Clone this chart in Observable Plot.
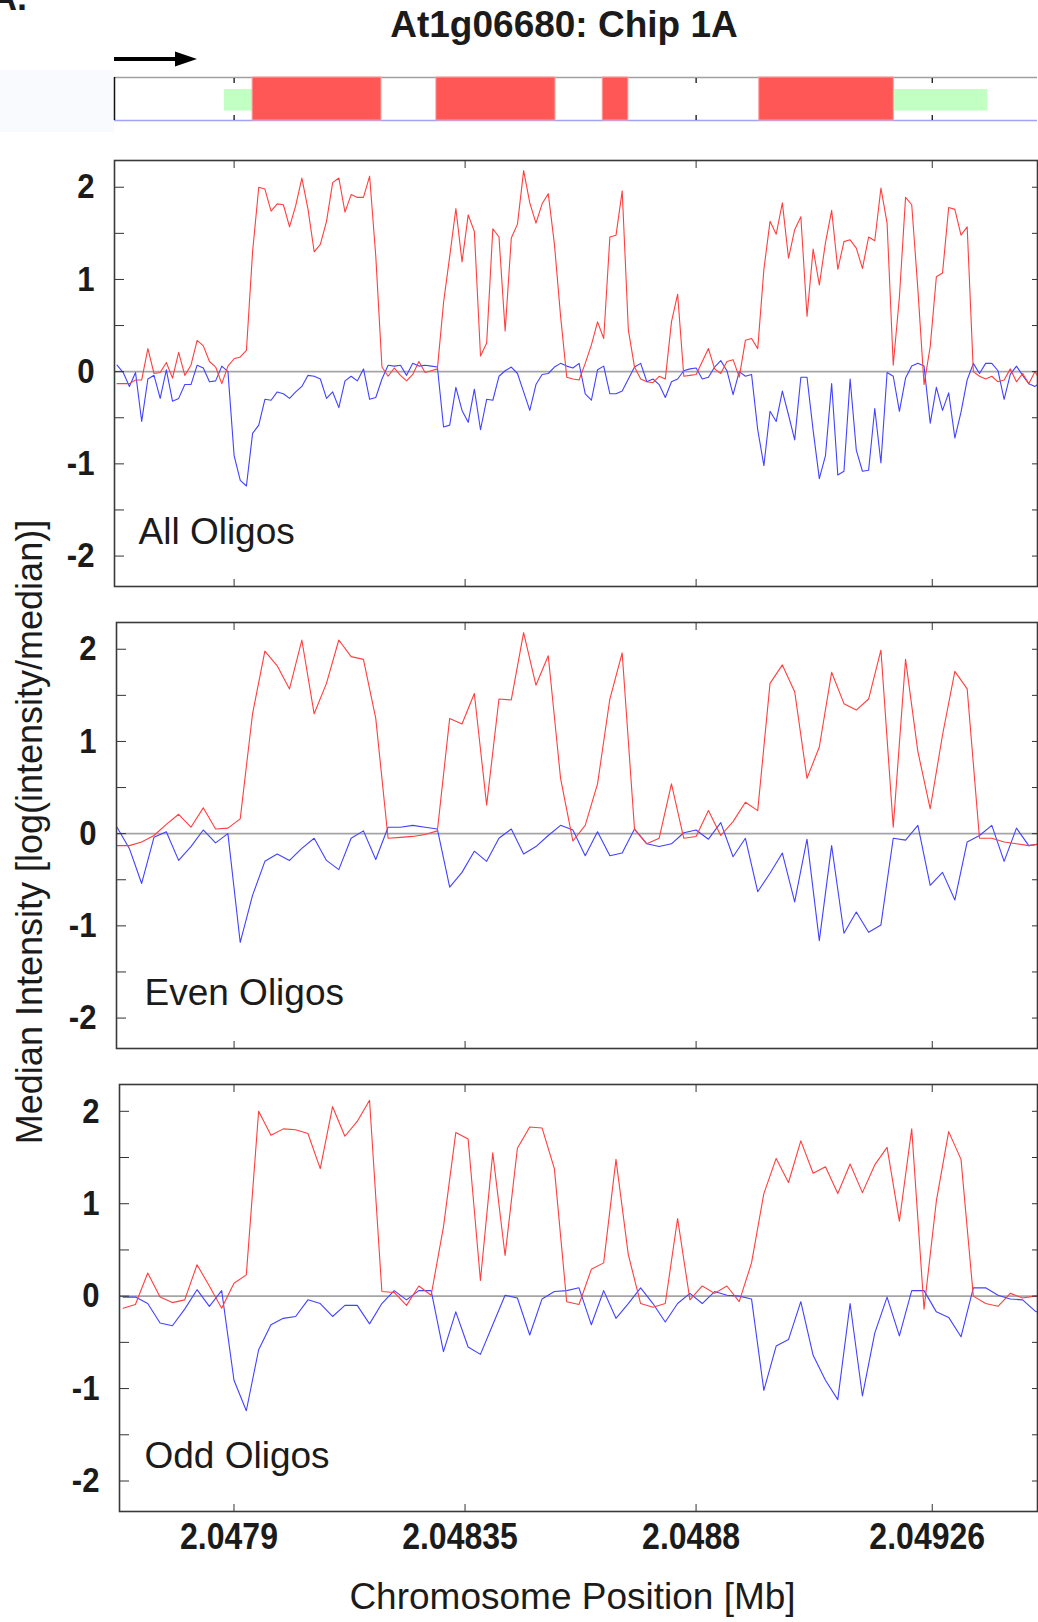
<!DOCTYPE html>
<html><head><meta charset="utf-8">
<script src="https://cdn.jsdelivr.net/npm/d3@7"></script>
<script src="https://cdn.jsdelivr.net/npm/@observablehq/plot@0.6"></script>
<style>
html,body{margin:0;padding:0;background:#fff;}
#root{position:relative;width:1038px;height:1622px;overflow:hidden;font-family:"Liberation Sans",Arial,Helvetica,sans-serif;}
</style></head><body><div id="root"></div>
<script>
// ---------------- data ----------------
const chartTitle = "At1g06680: Chip 1A";
const panelLabels = ["All Oligos", "Even Oligos", "Odd Oligos"];
const xAxisTitle = "Chromosome Position [Mb]";
const yAxisTitle = "Median Intensity [log(intensity/median)]";
const xTickValues = [2.0479, 2.04835, 2.0488, 2.04926];
const xTickLabels = ["2.0479", "2.04835", "2.0488", "2.04926"];
const yTickValues = [-2, -1.5, -1, -0.5, 0, 0.5, 1, 1.5, 2];
const yLabelValues = [-2, -1, 0, 1, 2];

// probe layout (bp): even and odd oligos alternate along the window
const evenStartBp = 2047672;
const oddStartBp = 2047684;
const probeStepBp = 24;
const windowEndBp = 2049465;

// red / blue traces (one value per probe)
const evenRed = [-0.13,-0.13,-0.09,-0.02,0.10,0.21,0.07,0.28,0.05,0.06,
  0.16,1.30,1.98,1.82,1.57,2.10,1.30,1.63,2.10,1.92,
  1.89,1.25,-0.05,-0.04,-0.03,-0.01,0.03,1.25,1.19,1.52,
  0.31,1.46,1.45,2.18,1.61,1.93,0.60,-0.08,0.09,0.54,
  1.46,1.96,0.05,-0.11,-0.05,0.54,-0.05,-0.03,0.25,-0.02,
  0.13,0.34,0.25,1.63,1.83,1.54,0.60,0.94,1.75,1.41,
  1.34,1.46,1.99,0.07,1.89,0.89,0.27,1.07,1.76,1.57,
  -0.05,-0.05,-0.09,-0.11,-0.13,-0.11];
const evenBlue = [0.07,-0.16,-0.54,-0.04,0.02,-0.29,-0.14,0.04,-0.10,0.00,
  -1.18,-0.67,-0.30,-0.22,-0.29,-0.16,-0.05,-0.29,-0.39,-0.05,
  0.03,-0.28,0.07,0.07,0.09,0.07,0.05,-0.58,-0.42,-0.19,
  -0.30,-0.05,0.05,-0.22,-0.14,-0.02,0.09,0.04,-0.24,0.02,
  -0.24,-0.21,0.05,-0.11,-0.14,-0.11,0.01,0.04,-0.06,0.12,
  -0.25,-0.05,-0.63,-0.43,-0.21,-0.74,-0.06,-1.16,-0.13,-1.08,
  -0.85,-1.07,-0.99,-0.05,-0.07,0.09,-0.56,-0.42,-0.72,-0.09,
  -0.02,0.09,-0.30,0.06,-0.13,-0.11];
const oddRed = [-0.13,-0.09,0.25,-0.01,-0.07,-0.04,0.34,0.11,-0.13,0.14,
  0.23,2.00,1.74,1.81,1.80,1.76,1.38,2.05,1.73,1.89,
  2.12,0.05,0.04,-0.10,0.11,0.01,0.75,1.77,1.70,0.17,
  1.55,0.44,1.60,1.83,1.82,1.38,-0.06,-0.09,0.29,0.36,
  1.48,0.45,-0.08,-0.12,-0.08,0.84,-0.04,0.11,0.03,0.11,
  -0.06,0.36,1.11,1.49,1.23,1.68,1.33,1.40,1.11,1.43,
  1.12,1.42,1.61,0.81,1.81,-0.14,1.03,1.78,1.48,0.00,
  -0.08,-0.11,0.03,-0.02,0.00,0.00];
const oddBlue = [-0.01,-0.01,-0.08,-0.29,-0.32,-0.14,0.07,-0.11,0.06,-0.91,
  -1.24,-0.58,-0.31,-0.24,-0.22,-0.04,-0.08,-0.22,-0.10,-0.10,
  -0.30,-0.08,0.06,-0.04,0.06,0.06,-0.60,-0.17,-0.55,-0.63,
  -0.31,0.01,-0.02,-0.42,-0.03,0.05,0.06,0.09,-0.31,0.06,
  -0.24,-0.08,0.09,-0.08,-0.28,-0.08,0.03,-0.08,0.05,0.01,
  0.00,-0.03,-1.02,-0.54,-0.47,-0.06,-0.64,-0.91,-1.12,-0.08,
  -1.08,-0.40,-0.01,-0.43,0.06,0.06,-0.17,-0.23,-0.44,0.09,
  0.09,0.01,-0.03,-0.04,-0.16,-0.22];

// gene model (bp)
const utrBlocks = [[2047881, 2047936], [2049185, 2049368]];
const exonBlocks = [[2047936, 2048187], [2048294, 2048526], [2048618, 2048668], [2048923, 2049185]];

// ---------------- build ----------------
const FONT = '"Liberation Sans", Arial, Helvetica, sans-serif';
const RED = "#ff3f3f", BLUE = "#4242ff", INK = "#1b1b1b", AXIS = "#333";

const evenRows = evenRed.map((v, k) => ({pos: (evenStartBp + k * probeStepBp) / 1e6, red: v, blue: evenBlue[k]}));
const oddRows = oddRed.map((v, k) => ({pos: (oddStartBp + k * probeStepBp) / 1e6, red: v, blue: oddBlue[k]}));
const allRows = [...evenRows, ...oddRows].sort((a, b) => a.pos - b.pos);
const xLabelMap = new Map(xTickValues.map((v, i) => [v, xTickLabels[i]]));

const root = document.getElementById("root");
function place(node, top) {
  node.style.position = "absolute";
  node.style.left = "0px";
  node.style.top = top + "px";
  root.appendChild(node);
}
// narrow the bold tick labels (the reference uses a condensed face)
function condense(svg, factor) {
  svg.querySelectorAll('g[aria-label$="tick label"] text').forEach(t => {
    const L = t.getComputedTextLength();
    if (L > 0) {
      t.setAttribute("textLength", (L * factor).toFixed(1));
      t.setAttribute("lengthAdjust", "spacingAndGlyphs");
    }
  });
}

// faint box left of the gene track
const box = document.createElement("div");
box.style.cssText = "position:absolute;left:0;top:70px;width:114px;height:62px;background:#f8fafd;";
root.appendChild(box);

// gene track
const trackStartBp = 2047667;
const track = Plot.plot({
  width: 1038, height: 60, marginTop: 9, marginBottom: 8, marginLeft: 114, marginRight: 1,
  x: {domain: [trackStartBp / 1e6, windowEndBp / 1e6], type: "linear", axis: null},
  y: {domain: [0, 1], axis: null},
  style: {background: "transparent", overflow: "visible", fontFamily: FONT},
  marks: [
    Plot.ruleY([1], {stroke: "#a0a0a0", strokeWidth: 1.6}),
    Plot.ruleY([0], {stroke: "#a2a2f6", strokeWidth: 1.5}),
    Plot.axisX({anchor: "top", ticks: xTickValues, tickSize: -5, tickFormat: () => "", stroke: "#111", strokeWidth: 1.3, label: null}),
    Plot.axisX({anchor: "bottom", ticks: xTickValues, tickSize: -5, tickFormat: () => "", stroke: "#111", strokeWidth: 1.3, label: null}),
    Plot.rect(utrBlocks, {x1: d => d[0] / 1e6, x2: d => d[1] / 1e6, y1: 0.22, y2: 0.72, fill: "#c2ffc2"}),
    Plot.rect(exonBlocks, {x1: d => d[0] / 1e6, x2: d => d[1] / 1e6, y1: 0, y2: 1, fill: "#ff5656", stroke: "#ffa0a0", strokeWidth: 1}),
    Plot.ruleX([trackStartBp / 1e6], {stroke: "#111", strokeWidth: 1.5})
  ]
});
place(track, 68);

function panelPlot(rows, cfg) {
  const marks = [
    Plot.ruleY([0], {stroke: "#a5a5a5", strokeWidth: 1.6}),
    Plot.line(rows, {x: "pos", y: "blue", stroke: BLUE, strokeWidth: 1.1, clip: true}),
    Plot.line(rows, {x: "pos", y: "red", stroke: RED, strokeWidth: 1.1, clip: true}),
    Plot.axisY({anchor: "left", ticks: yTickValues, tickSize: -10, tickFormat: () => "", stroke: AXIS, label: null}),
    Plot.axisY({anchor: "right", ticks: yTickValues, tickSize: -6, tickFormat: () => "", stroke: AXIS, label: null}),
    Plot.axisY({anchor: "left", ticks: yLabelValues, tickSize: 0, tickPadding: 20, tickFormat: d => String(d),
      fontSize: 35, fontWeight: "bold", fill: INK, label: null}),
    Plot.axisX({anchor: "top", ticks: xTickValues, tickSize: -7, tickFormat: () => "", stroke: AXIS, label: null}),
    Plot.axisX({anchor: "bottom", ticks: xTickValues, tickSize: -7, tickFormat: () => "", stroke: AXIS, label: null}),
    Plot.frame({stroke: "#3a3a3a", strokeWidth: 1.6}),
    Plot.text([cfg.label], {text: d => d, frameAnchor: "bottom-left", dx: cfg.labelDx, dy: cfg.labelDy,
      textAnchor: "start", lineAnchor: "bottom", fontSize: 37, fill: INK})
  ];
  if (cfg.xLabels) {
    marks.push(Plot.axisX({anchor: "bottom", ticks: xTickValues, tickSize: 0, tickPadding: 12, dx: -5,
      tickFormat: d => xLabelMap.get(d), fontSize: 36, fontWeight: "bold", fill: INK, label: null}));
    marks.push(Plot.text([xAxisTitle], {text: d => d, frameAnchor: "bottom", dx: -6, dy: 97,
      lineAnchor: "bottom", fontSize: 37, fill: INK}));
  }
  return Plot.plot({
    width: 1038, height: cfg.height,
    marginTop: cfg.mTop, marginBottom: cfg.mBottom, marginLeft: cfg.mLeft, marginRight: 1,
    x: {domain: [cfg.startBp / 1e6, windowEndBp / 1e6], type: "linear"},
    y: {domain: [-2.33, 2.29]},
    style: {background: "transparent", overflow: "visible", fontFamily: FONT},
    marks
  });
}

const p1 = panelPlot(allRows, {label: panelLabels[0], height: 460, mTop: 20, mBottom: 14, mLeft: 114, startBp: 2047667, labelDx: 24, labelDy: -43});
const p2 = panelPlot(evenRows, {label: panelLabels[1], height: 460, mTop: 22, mBottom: 12, mLeft: 116, startBp: 2047671, labelDx: 28, labelDy: -44});
const p3 = panelPlot(oddRows, {label: panelLabels[2], height: 560, mTop: 22, mBottom: 111, mLeft: 119, startBp: 2047677, labelDx: 25, labelDy: -44, xLabels: true});
place(p1, 140); place(p2, 600); place(p3, 1062);
[p1, p2, p3].forEach(p => condense(p, 0.89));

// overlay: panel letter, title, strand arrow, y-axis title
const ns = "http://www.w3.org/2000/svg";
const over = document.createElementNS(ns, "svg");
over.setAttribute("width", 1038); over.setAttribute("height", 1622);
over.style.cssText = "position:absolute;left:0;top:0;pointer-events:none;overflow:hidden;";
over.innerHTML = `
  <text x="-9" y="10" font-family='${FONT}' font-size="36" font-weight="bold" fill="${INK}">A.</text>
  <text x="564" y="37" text-anchor="middle" font-family='${FONT}' font-size="37" font-weight="bold" fill="${INK}">${chartTitle}</text>
  <line x1="114" y1="59" x2="180" y2="59" stroke="#000" stroke-width="4"/>
  <polygon points="175,51.5 197,59 175,66.5" fill="#000"/>
  <text transform="translate(42,832) rotate(-90)" text-anchor="middle" font-family='${FONT}' font-size="36" fill="${INK}">${yAxisTitle}</text>`;
root.appendChild(over);
</script></body></html>
